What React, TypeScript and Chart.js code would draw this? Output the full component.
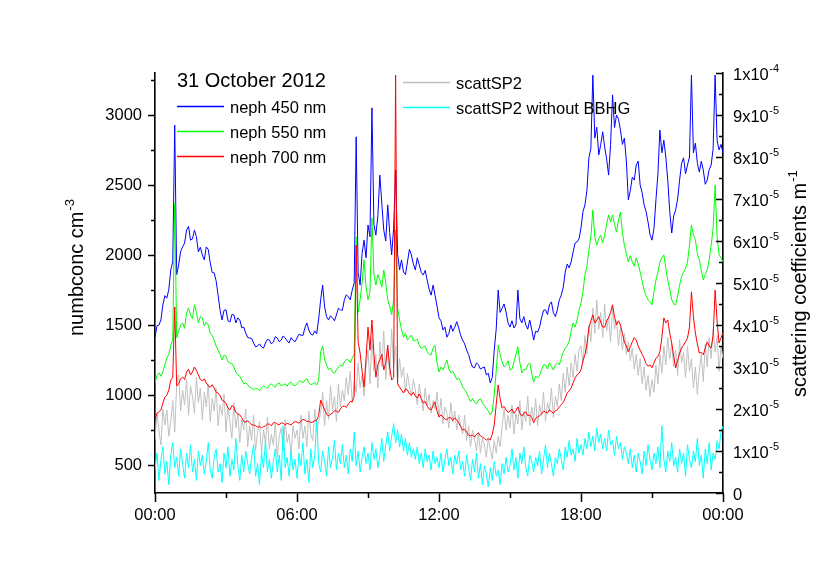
import React, { useEffect, useRef } from "react";
import { Chart, registerables } from "chart.js";

Chart.register(...registerables);

const FONT = "'Liberation Sans', Arial, Helvetica, sans-serif";

// time grid, hours after midnight, 5-minute steps
const TIMES = Array.from({ length: 289 }, (_, i) => (i * 5) / 60);

const X_TICKS = [0, 6, 12, 18, 24];
const X_MINOR = [3, 9, 15, 21];
const LEFT_TICKS = [500, 1000, 1500, 2000, 2500, 3000];
const LEFT_MINOR = [750, 1250, 1750, 2250, 2750, 3250];
const RIGHT_TICKS = [0, 1, 2, 3, 4, 5, 6, 7, 8, 9, 10]; // units of 1e-5 m^-1
const RIGHT_MINOR = [0.5, 1.5, 2.5, 3.5, 4.5, 5.5, 6.5, 7.5, 8.5, 9.5];

const TITLE = "31 October 2012";
const LEFT_TITLE = "numbconc cm";
const LEFT_TITLE_SUP = "-3";
const RIGHT_TITLE = "scattering coefficients m";
const RIGHT_TITLE_SUP = "-1";

// scattering coefficients in 1e-5 m^-1, 5-minute values, one row per hour
const NEPH_450 = [
  3.71, 3.98, 4.0, 4.12, 4.48, 4.7, 4.64, 4.85, 5.31, 5.5, 8.76, 5.2,
  5.43, 5.75, 5.86, 5.95, 6.26, 6.35, 6.02, 6.05, 6.26, 6.1, 5.74, 5.85,
  5.67, 5.55, 5.86, 5.8, 5.48, 5.25, 5.24, 5.05, 4.71, 4.35, 4.12, 4.35,
  4.36, 4.1, 4.07, 4.25, 4.24, 4.05, 4.17, 4.12, 3.93, 3.95, 3.81, 3.7,
  3.69, 3.68, 3.57, 3.48, 3.5, 3.55, 3.48, 3.45, 3.57, 3.66, 3.64, 3.55,
  3.6, 3.72, 3.69, 3.6, 3.64, 3.74, 3.69, 3.62, 3.57, 3.7, 3.64, 3.6,
  3.69, 3.78, 3.76, 3.75, 3.93, 4.05, 3.88, 3.78, 3.76, 3.86, 3.79, 4.15,
  4.6, 4.95, 4.43, 4.2, 4.12, 4.22, 4.17, 4.1, 4.24, 4.4, 4.36, 4.35,
  4.6, 4.72, 4.67, 4.6, 4.83, 5.0, 8.48, 5.25, 4.95, 5.7, 6.02, 5.6,
  6.38, 6.1, 9.17, 6.4, 6.14, 6.6, 7.57, 6.9, 6.26, 6.0, 6.86, 6.2,
  5.67, 6.3, 7.69, 5.7, 5.31, 5.55, 5.26, 5.2, 5.5, 5.8, 5.67, 5.45,
  5.31, 5.6, 5.43, 5.25, 5.19, 5.3, 5.07, 4.85, 4.71, 4.95, 4.71, 4.45,
  4.17, 4.1, 3.88, 3.95, 3.71, 3.8, 4.0, 3.85, 3.95, 4.08, 3.93, 3.75,
  3.64, 3.55, 3.4, 3.3, 3.12, 3.0, 2.98, 3.1, 3.05, 2.95, 2.98, 3.0,
  2.81, 2.85, 2.62, 2.75, 3.4, 3.9, 4.83, 4.3, 4.4, 4.5, 4.31, 4.05,
  3.95, 4.1, 3.93, 4.0, 4.83, 4.15, 4.05, 4.2, 4.0, 3.9, 4.12, 3.9,
  3.64, 3.85, 3.83, 3.95, 4.17, 4.35, 4.36, 4.25, 4.48, 4.55, 4.29, 4.2,
  4.36, 4.6, 4.71, 4.9, 5.26, 5.45, 5.36, 5.5, 5.74, 5.95, 5.98, 6.05,
  6.31, 6.7, 6.86, 7.2, 7.98, 8.2, 9.95, 8.45, 8.71, 8.05, 8.29, 8.6,
  8.24, 7.95, 7.57, 8.3, 9.48, 8.7, 9.0, 8.9, 8.64, 8.3, 8.45, 7.9,
  6.98, 7.2, 7.52, 7.45, 7.81, 7.9, 7.33, 7.15, 6.86, 6.7, 6.45, 6.15,
  6.02, 6.3, 6.98, 7.6, 8.64, 8.1, 8.4, 8.0, 7.45, 6.7, 6.19, 6.6,
  6.74, 7.0, 7.45, 7.85, 7.98, 7.6, 7.81, 8.0, 9.95, 8.1, 8.33, 7.85,
  7.64, 7.9, 7.69, 7.35, 7.45, 7.7, 7.81, 8.2, 9.95, 8.4, 8.17, 8.3,
  8.1,
];

const NEPH_550 = [
  2.62, 2.8, 2.86, 2.78, 2.88, 3.05, 3.21, 3.3, 3.52, 3.65, 6.9, 3.7,
  3.86, 4.0, 4.05, 3.92, 4.29, 4.4, 4.24, 4.15, 4.48, 4.3, 4.05, 4.2,
  4.17, 3.98, 4.07, 4.0, 3.81, 3.75, 3.64, 3.5, 3.4, 3.3, 3.17, 3.28,
  3.26, 3.12, 3.1, 3.08, 3.0, 2.88, 2.81, 2.78, 2.69, 2.6, 2.62, 2.58,
  2.52, 2.5, 2.45, 2.5, 2.48, 2.44, 2.5, 2.55, 2.52, 2.49, 2.57, 2.6,
  2.55, 2.52, 2.6, 2.62, 2.55, 2.58, 2.6, 2.54, 2.62, 2.64, 2.57, 2.55,
  2.6, 2.66, 2.67, 2.62, 2.69, 2.72, 2.62, 2.58, 2.6, 2.63, 2.57, 2.7,
  3.36, 3.5, 3.17, 3.05, 2.93, 2.98, 2.88, 2.85, 2.93, 3.0, 3.05, 3.02,
  3.12, 3.18, 3.17, 3.1, 3.21, 3.3, 6.1, 4.3, 4.6, 5.0, 5.55, 4.9,
  4.6, 4.8, 6.55, 5.2, 4.95, 5.2, 5.07, 4.9, 5.31, 5.0, 4.6, 4.45,
  4.24, 4.6, 6.26, 4.4, 4.12, 3.9, 3.71, 3.8, 3.64, 3.7, 3.76, 3.62,
  3.64, 3.66, 3.52, 3.44, 3.48, 3.5, 3.36, 3.3, 3.29, 3.45, 3.52, 3.1,
  2.88, 3.0, 2.93, 3.05, 3.17, 2.95, 2.86, 2.9, 2.81, 2.7, 2.74, 2.65,
  2.52, 2.46, 2.38, 2.28, 2.17, 2.25, 2.17, 2.12, 2.21, 2.24, 2.14, 2.08,
  2.02, 1.95, 1.86, 1.95, 2.33, 2.9, 3.52, 3.3, 3.12, 3.0, 3.05, 3.15,
  2.93, 2.95, 3.12, 3.3, 3.48, 3.1, 2.86, 2.95, 2.93, 3.05, 3.1, 2.85,
  2.64, 2.78, 2.74, 2.8, 2.93, 3.05, 3.05, 2.95, 3.1, 3.02, 2.93, 3.05,
  3.1, 3.05, 3.21, 3.35, 3.45, 3.5, 3.62, 3.85, 4.05, 3.95, 4.12, 4.35,
  4.52, 4.8, 5.19, 5.4, 5.79, 6.1, 6.74, 6.1, 5.9, 6.05, 6.14, 5.95,
  6.14, 6.4, 6.62, 6.45, 6.62, 6.4, 6.21, 6.5, 6.69, 6.2, 5.9, 5.7,
  5.5, 5.65, 5.5, 5.4, 5.6, 5.45, 5.26, 5.05, 4.83, 4.7, 4.6, 4.55,
  4.48, 4.8, 5.07, 5.25, 5.5, 5.6, 5.67, 5.35, 5.07, 4.85, 4.6, 4.5,
  4.48, 4.7, 4.95, 5.15, 5.26, 5.35, 5.5, 5.9, 6.38, 6.15, 6.02, 5.7,
  5.55, 5.3, 5.07, 5.2, 5.31, 5.55, 5.9, 6.3, 7.33, 6.1, 5.67, 5.6,
  5.5,
];

const NEPH_700 = [
  1.74, 1.9, 1.93, 1.98, 2.14, 2.28, 2.33, 2.45, 2.69, 2.75, 4.43, 2.55,
  2.6, 2.72, 2.76, 2.7, 2.88, 2.95, 2.81, 2.88, 3.0, 2.92, 2.81, 2.7,
  2.67, 2.72, 2.62, 2.55, 2.52, 2.58, 2.5, 2.4, 2.38, 2.32, 2.21, 2.18,
  2.14, 2.02, 1.98, 2.08, 2.05, 1.92, 1.88, 1.86, 1.79, 1.7, 1.69, 1.72,
  1.67, 1.62, 1.62, 1.6, 1.57, 1.58, 1.55, 1.58, 1.6, 1.64, 1.64, 1.6,
  1.67, 1.68, 1.64, 1.62, 1.67, 1.66, 1.62, 1.66, 1.64, 1.62, 1.67, 1.7,
  1.69, 1.66, 1.71, 1.75, 1.74, 1.7, 1.71, 1.68, 1.69, 1.72, 1.74, 1.85,
  2.21, 2.1, 1.98, 1.88, 1.83, 1.88, 1.9, 1.96, 1.95, 1.92, 2.0, 2.06,
  2.07, 2.04, 2.12, 2.18, 2.17, 2.3, 5.9, 3.6, 3.33, 2.9, 2.52, 3.2,
  3.95, 3.4, 4.12, 3.3, 2.76, 3.05, 3.17, 3.3, 2.93, 3.1, 3.52, 3.0,
  2.69, 2.75, 9.95, 2.6, 2.52, 2.45, 2.38, 2.48, 2.45, 2.36, 2.33, 2.4,
  2.31, 2.26, 2.36, 2.25, 2.14, 2.18, 2.07, 2.0, 1.98, 2.08, 2.17, 1.95,
  1.81, 1.86, 1.81, 1.76, 1.74, 1.8, 1.79, 1.72, 1.79, 1.74, 1.67, 1.58,
  1.5, 1.52, 1.45, 1.38, 1.36, 1.38, 1.33, 1.4, 1.43, 1.36, 1.33, 1.3,
  1.26, 1.3, 1.26, 1.4, 1.62, 2.1, 2.57, 2.25, 2.02, 2.06, 1.98, 1.92,
  1.95, 2.0, 1.9, 1.96, 2.05, 1.9, 1.83, 1.9, 1.93, 1.84, 1.86, 1.8,
  1.67, 1.78, 1.81, 1.84, 1.88, 1.95, 1.93, 1.9, 1.98, 1.94, 1.9, 1.96,
  1.98, 2.05, 2.1, 2.16, 2.26, 2.38, 2.43, 2.5, 2.62, 2.74, 2.81, 2.85,
  2.93, 3.15, 3.29, 3.55, 3.93, 4.1, 4.24, 4.05, 4.12, 4.2, 4.07, 3.95,
  3.95, 4.1, 4.17, 4.3, 4.48, 4.2, 4.0, 4.1, 4.0, 3.8, 3.6, 3.5,
  3.36, 3.48, 3.6, 3.7, 3.64, 3.5, 3.4, 3.3, 3.21, 3.08, 3.02, 3.05,
  2.98, 3.1, 3.21, 3.25, 3.36, 3.7, 4.17, 4.05, 4.12, 3.8, 3.57, 3.25,
  2.98, 3.15, 3.33, 3.45, 3.52, 3.6, 3.69, 3.95, 4.79, 4.2, 3.81, 3.55,
  3.33, 3.35, 3.29, 3.45, 3.6, 3.5, 3.45, 3.75, 4.83, 4.1, 3.57, 3.7,
  3.81,
];

const SCATT_SP2 = [
  1.26, 1.9, 1.5, 1.14, 2.0, 1.62, 1.98, 1.35, 1.7, 2.2, 1.45, 2.6,
  2.81, 1.95, 2.45, 2.1, 2.7, 1.85, 2.55, 2.3, 1.9, 2.75, 2.15, 2.5,
  1.75, 2.4, 2.05, 2.6, 1.7, 2.25, 1.95, 2.5, 1.6, 2.1, 1.85, 2.35,
  1.45, 2.05, 1.7, 1.3, 2.15, 1.55, 1.9, 1.2, 1.75, 1.5, 2.0, 1.1,
  1.6, 1.25, 1.85, 1.0, 1.45, 1.7, 0.95, 1.5, 1.2, 1.8, 1.05, 1.4,
  1.15, 1.65, 0.85, 1.35, 1.55, 1.0, 1.75, 1.2, 1.4, 0.9, 1.6, 1.3,
  1.5, 1.05, 1.85, 1.3, 1.6, 1.1, 1.95, 1.4, 1.25, 2.0, 1.45, 1.7,
  1.9, 2.4, 1.6, 2.2, 1.75, 2.55, 1.95, 2.3, 1.7, 2.6, 2.05, 2.45,
  2.2, 2.75, 2.35, 2.9, 2.15, 2.65, 2.4, 3.1, 2.5, 2.8, 2.3, 3.0,
  3.4, 2.6, 3.7, 2.9, 3.3, 2.5, 3.6, 3.0, 3.85, 2.7, 3.45, 2.8,
  3.9, 3.0, 3.5, 2.6, 3.2, 2.75, 3.0, 2.4, 2.85, 2.55, 2.3, 2.7,
  2.45, 2.1, 2.6, 2.25, 1.95, 2.5, 2.1, 2.35, 1.9, 2.2, 2.0, 2.4,
  1.8, 2.25, 1.65, 2.05, 1.9, 1.55, 2.15, 1.7, 1.95, 1.5, 1.85, 1.6,
  1.4, 1.85, 1.25, 1.6, 1.1, 1.5, 1.3, 1.0, 1.45, 0.95, 1.3, 1.15,
  0.85, 1.3, 1.05, 0.8, 1.25, 0.95, 1.35, 1.1, 1.6, 2.0, 1.5, 1.85,
  1.55, 2.1, 1.4, 1.9, 1.65, 2.2, 1.5, 1.95, 1.7, 2.3, 1.6, 2.05,
  1.75, 2.25, 1.6, 2.1, 1.85, 2.4, 1.7, 2.15, 1.95, 2.5, 1.8, 2.3,
  2.05, 2.6, 2.2, 2.85, 2.4, 3.0, 2.55, 3.1, 2.75, 3.3, 2.9, 3.4,
  3.5, 3.1, 3.75, 3.3, 4.0, 3.6, 4.4, 3.8, 4.6, 3.9, 4.3, 3.7,
  4.5, 3.85, 4.2, 3.6, 4.45, 3.9, 4.1, 3.5, 3.95, 3.4, 3.8, 3.3,
  3.6, 3.15, 3.45, 2.95, 3.3, 2.8, 3.2, 2.6, 3.0, 2.45, 2.8, 2.3,
  2.7, 2.4, 3.05, 2.6, 3.3, 2.85, 3.5, 3.05, 3.7, 3.2, 3.55, 3.0,
  3.4, 2.8, 3.65, 3.1, 3.35, 2.75, 3.5, 2.9, 3.2, 2.5, 3.0, 2.35,
  2.9, 3.3, 2.65, 3.55, 3.0, 3.7, 3.2, 3.9, 3.35, 3.75, 2.9, 3.5,
  3.2,
];

const SCATT_SP2_NO_BBHG = [
  0.55, 0.95, 0.3, 0.8, 1.1, 0.45, 0.75, 0.2, 0.9, 1.2, 0.6, 0.85,
  0.4, 1.05, 0.7, 0.35, 0.95, 0.6, 1.15, 0.5, 0.8, 0.3, 1.0, 0.65,
  0.9, 0.45, 0.75, 1.2, 0.55, 0.35, 0.85, 1.05, 0.5, 0.7, 0.25, 0.95,
  0.6, 1.1, 0.4, 0.8, 0.55, 1.3, 0.65, 0.3, 0.9, 0.5, 1.0, 0.7,
  0.45, 0.85, 1.15, 0.4, 0.7, 0.2, 0.95, 0.6, 1.25, 0.5, 0.8, 0.35,
  0.75, 1.05, 0.5, 0.9, 0.3, 1.6, 0.6, 0.85, 0.4, 1.0, 0.55, 0.8,
  0.35, 0.95, 0.65, 1.2, 0.45, 0.8, 0.25, 1.05, 0.6, 0.9, 1.75, 0.7,
  0.5, 1.0, 0.75, 0.4, 1.1, 0.6, 0.85, 1.25, 0.55, 0.95, 0.7, 1.15,
  0.6, 0.9, 0.45, 1.05, 0.75, 1.45, 0.65, 1.0, 0.5, 0.85, 1.1, 0.7,
  0.95, 0.55, 1.2, 0.8, 1.05, 0.6, 0.9, 1.3, 0.75, 1.15, 1.45, 1.0,
  1.35, 1.65, 1.2, 1.5, 1.1, 1.4, 1.0, 1.3, 0.9, 1.2, 0.85, 1.05,
  0.8, 1.1, 0.7, 0.95, 0.6, 1.05, 0.75, 0.9, 0.55, 1.0, 0.7, 0.85,
  0.6, 0.95, 0.5, 0.8, 1.05, 0.65, 0.85, 0.45, 0.9, 0.7, 1.0, 0.55,
  0.75, 0.4, 0.9, 0.6, 0.3, 0.8, 0.5, 0.95, 0.35, 0.7, 0.2, 0.65,
  0.45, 0.15, 0.6, 0.3, 0.75, 0.4, 0.55, 0.2, 0.7, 0.45, 0.85, 0.5,
  0.65, 1.05, 0.55, 0.85, 0.35, 0.95, 0.7, 1.1, 0.6, 0.4, 0.9, 0.75,
  0.5, 0.85, 0.65, 1.0, 0.45, 0.8, 1.15, 0.6, 0.95, 0.7, 0.4, 0.85,
  0.7, 1.05, 0.8, 0.55, 1.1, 0.85, 1.25, 0.9, 1.05, 0.75, 1.3, 0.95,
  1.15, 0.9, 1.3, 1.05, 1.45, 1.1, 1.35, 1.0, 1.55, 1.2, 1.4, 1.05,
  1.3, 1.0, 1.5, 1.15, 1.25, 0.9, 1.35, 1.05, 1.2, 0.8, 1.1, 0.95,
  0.7, 1.05, 0.6, 0.9, 0.5, 0.95, 0.75, 0.45, 1.0, 0.65, 1.15, 0.8,
  0.55, 0.95, 0.7, 1.1, 0.6, 1.6, 0.8, 0.5, 1.0, 0.75, 1.2, 0.65,
  0.85, 0.5, 1.05, 0.7, 0.95, 0.4, 1.15, 0.8, 0.6, 1.0, 0.75, 1.3,
  0.65, 0.9, 0.35, 1.05, 0.7, 1.2, 0.55, 0.95, 0.8, 1.25, 1.05, 1.45,
  1.6,
];

const SERIES = [
  { label: "neph 450 nm", data: NEPH_450, color: "#0000ff", order: 3 },
  { label: "neph 550 nm", data: NEPH_550, color: "#00ff00", order: 2 },
  { label: "neph 700 nm", data: NEPH_700, color: "#ff0000", order: 1 },
  { label: "scattSP2", data: SCATT_SP2, color: "#c0c0c0", order: 5 },
  { label: "scattSP2 without BBHG", data: SCATT_SP2_NO_BBHG, color: "#00ffff", order: 4 },
];

const fmtTime = (v: number) => `${String(Math.round(v) % 24).padStart(2, "0")}:00`;

const overlayPlugin = {
  id: "overlay",
  afterDraw(chart: any) {
    const ctx = chart.ctx as CanvasRenderingContext2D;
    const { left, right, bottom } = chart.chartArea;
    const xs = chart.scales.x;
    const yl = chart.scales.y;
    const yr = chart.scales.y1;
    ctx.save();
    ctx.strokeStyle = "#000";
    ctx.lineWidth = 1.5;
    ctx.beginPath();
    for (const v of LEFT_MINOR) {
      const p = Math.round(yl.getPixelForValue(v)) + 0.5;
      ctx.moveTo(left - 4, p);
      ctx.lineTo(left, p);
    }
    for (const v of X_MINOR) {
      const p = Math.round(xs.getPixelForValue(v)) + 0.5;
      ctx.moveTo(p, bottom);
      ctx.lineTo(p, bottom + 5);
    }
    for (const v of RIGHT_TICKS) {
      const p = Math.round(yr.getPixelForValue(v)) + 0.5;
      ctx.moveTo(right - 7, p);
      ctx.lineTo(right, p);
    }
    for (const v of RIGHT_MINOR) {
      const p = Math.round(yr.getPixelForValue(v)) + 0.5;
      ctx.moveTo(right - 4, p);
      ctx.lineTo(right, p);
    }
    ctx.stroke();

    // right tick labels with superscript exponents
    ctx.fillStyle = "#000";
    ctx.textAlign = "left";
    ctx.textBaseline = "alphabetic";
    for (const v of RIGHT_TICKS) {
      const p = yr.getPixelForValue(v);
      const x0 = right + 10;
      let main = "0";
      let sup = "";
      if (v === 10) {
        main = "1x10";
        sup = "-4";
      } else if (v > 0) {
        main = `${v}x10`;
        sup = "-5";
      }
      ctx.font = `16.5px ${FONT}`;
      ctx.fillText(main, x0, p + 6.5);
      if (sup) {
        const w = ctx.measureText(main).width;
        ctx.font = `11px ${FONT}`;
        ctx.fillText(sup, x0 + w + 0.5, p - 1);
      }
    }

    // axis titles
    const drawRotated = (x: number, y: number, txt: string, sup: string) => {
      ctx.save();
      ctx.translate(x, y);
      ctx.rotate(-Math.PI / 2);
      ctx.font = `20px ${FONT}`;
      ctx.fillText(txt, 0, 0);
      const w = ctx.measureText(txt).width;
      ctx.font = `13px ${FONT}`;
      ctx.fillText(sup, w + 1, -9);
      ctx.restore();
    };
    drawRotated(83, 336, LEFT_TITLE, LEFT_TITLE_SUP);
    drawRotated(806, 397, RIGHT_TITLE, RIGHT_TITLE_SUP);

    // legend
    ctx.font = `20px ${FONT}`;
    ctx.fillText(TITLE, 177, 87);
    ctx.font = `16.5px ${FONT}`;
    const rows = [
      { s: SERIES[0], lx: 177, tx: 230, y: 106 },
      { s: SERIES[1], lx: 177, tx: 230, y: 131 },
      { s: SERIES[2], lx: 177, tx: 230, y: 156 },
      { s: SERIES[3], lx: 403, tx: 456, y: 82 },
      { s: SERIES[4], lx: 403, tx: 456, y: 107 },
    ];
    for (const r of rows) {
      ctx.strokeStyle = r.s.color;
      ctx.lineWidth = 1.4;
      ctx.beginPath();
      ctx.moveTo(r.lx, r.y + 0.5);
      ctx.lineTo(r.lx + 47, r.y + 0.5);
      ctx.stroke();
      ctx.fillStyle = "#000";
      ctx.fillText(r.s.label, r.tx, r.y + 6.5);
    }
    ctx.restore();
  },
};

export default function App() {
  const ref = useRef<HTMLCanvasElement | null>(null);
  useEffect(() => {
    if (!ref.current) return;
    Chart.defaults.font.family = FONT;
    Chart.defaults.color = "#000";
    const chart = new Chart(ref.current, {
      type: "line",
      data: {
        datasets: SERIES.map((s) => ({
          label: s.label,
          data: TIMES.map((t, i) => ({ x: t, y: s.data[i] })),
          borderColor: s.color,
          backgroundColor: s.color,
          borderWidth: 1,
          pointRadius: 0,
          tension: 0,
          fill: false,
          yAxisID: "y1",
          order: s.order,
        })),
      },
      options: {
        responsive: false,
        animation: false,
        events: [],
        layout: { padding: { top: 73, left: 0, right: 0, bottom: 0 } },
        plugins: {
          legend: { display: false },
          tooltip: { enabled: false },
          title: { display: false },
        },
        scales: {
          x: {
            type: "linear",
            position: "bottom",
            min: 0,
            max: 24,
            afterBuildTicks: (s: any) => {
              s.ticks = X_TICKS.map((v) => ({ value: v }));
            },
            afterFit: (s: any) => {
              s.height = 89;
            },
            grid: {
              display: true,
              drawOnChartArea: false,
              drawTicks: true,
              tickLength: 9,
              tickColor: "#000",
              tickWidth: 1.5,
            },
            border: { display: true, color: "#000", width: 1.6 },
            ticks: {
              color: "#000",
              font: { size: 16.5, family: FONT },
              padding: 4,
              autoSkip: false,
              maxRotation: 0,
              callback: (v: any) => fmtTime(Number(v)),
            },
          },
          y: {
            type: "linear",
            position: "left",
            min: 300,
            max: 3300,
            afterBuildTicks: (s: any) => {
              s.ticks = LEFT_TICKS.map((v) => ({ value: v }));
            },
            afterFit: (s: any) => {
              s.width = 155;
            },
            grid: {
              display: true,
              drawOnChartArea: false,
              drawTicks: true,
              tickLength: 7,
              tickColor: "#000",
              tickWidth: 1.5,
            },
            border: { display: true, color: "#000", width: 1.6 },
            ticks: {
              color: "#000",
              font: { size: 16.5, family: FONT },
              padding: 6,
              autoSkip: false,
              callback: (v: any) => String(v),
            },
          },
          y1: {
            type: "linear",
            position: "right",
            min: 0,
            max: 10,
            afterBuildTicks: (s: any) => {
              s.ticks = RIGHT_TICKS.map((v) => ({ value: v }));
            },
            afterFit: (s: any) => {
              s.width = 101;
            },
            grid: { display: false, drawOnChartArea: false },
            border: { display: true, color: "#000", width: 1.6 },
            ticks: { display: false },
          },
        },
      },
      plugins: [overlayPlugin],
    } as any);
    return () => chart.destroy();
  }, []);

  return (
    <div style={{ position: "absolute", left: 0, top: 0, width: 824, height: 582, background: "#fff" }}>
      <canvas ref={ref} width={824} height={582} style={{ display: "block", width: 824, height: 582 }} />
    </div>
  );
}
